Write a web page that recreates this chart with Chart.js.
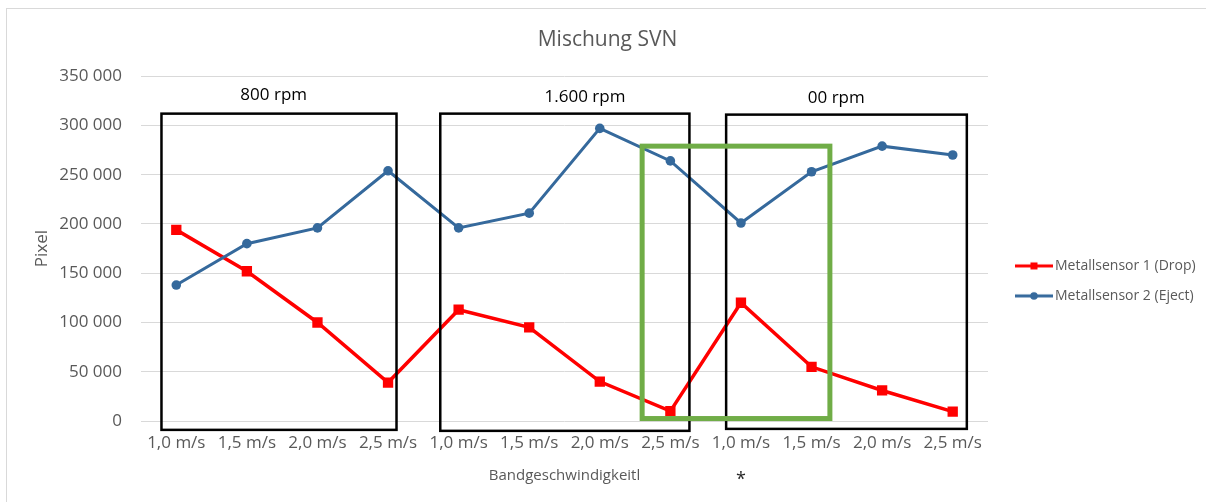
<!DOCTYPE html>
<html>
<head>
<meta charset="utf-8">
<title>Mischung SVN</title>
<script src="https://cdn.jsdelivr.net/npm/chart.js@4/dist/chart.umd.min.js"></script>
<style>
  html, body { margin: 0; padding: 0; background: #ffffff; }
  #wrap { position: relative; width: 1206px; height: 502px; overflow: hidden; }
  #frame { position: absolute; left: 6px; top: 8px; width: 1220px; height: 520px;
           border: 1px solid #d9d9d9; box-sizing: border-box; pointer-events: none; }
  canvas { position: absolute; left: 0; top: 0; }
</style>
</head>
<body>
<div id="wrap">
  <div id="frame"></div>
  <canvas id="chart" width="1206" height="502"></canvas>
</div>
<script>
// Belt speeds, repeated for each rotor speed group
const categories = [
  '1,0 m/s', '1,5 m/s', '2,0 m/s', '2,5 m/s',
  '1,0 m/s', '1,5 m/s', '2,0 m/s', '2,5 m/s',
  '1,0 m/s', '1,5 m/s', '2,0 m/s', '2,5 m/s'
];
// Pixel counts per sensor
const dropPixels  = [194000, 152000, 100000, 39000, 113000, 95000, 40000, 10000, 120000, 55000, 31000, 9500];
const ejectPixels = [138000, 180000, 196000, 254000, 196000, 211000, 297000, 264000, 201000, 253000, 279000, 270000];
// Rotor speed group names
const groupNames = ['800 rpm', '1.600 rpm', '00 rpm'];

const FONT = "'Open Sans', 'Liberation Sans', sans-serif";
const GREY = '#595959';
const RED = '#ff0000';
const BLUE = '#35699c';

function formatThousands(v) {
  return String(v).replace(/\B(?=(\d{3})+(?!\d))/g, ' ');
}

// Legend swatch: short line with its marker in the middle (drawn on a wider transparent canvas)
function legendSwatch(color, shape) {
  const c = document.createElement('canvas');
  c.width = 80; c.height = 12;
  const g = c.getContext('2d');
  const x0 = 29, x1 = 67, mid = 48;
  g.strokeStyle = color; g.lineWidth = 3;
  g.beginPath(); g.moveTo(x0, 6); g.lineTo(x1, 6); g.stroke();
  g.fillStyle = color;
  if (shape === 'rect') {
    g.fillRect(mid - 3.5, 2.5, 7, 7);
  } else {
    g.beginPath(); g.arc(mid, 6, 3.8, 0, Math.PI * 2); g.fill();
  }
  return c;
}
const swatches = [legendSwatch(RED, 'rect'), legendSwatch(BLUE, 'circle')];

// Frames, group captions and note drawn in data coordinates
const groupFrames = {
  id: 'groupFrames',
  afterDatasetsDraw(chart, args, opts) {
    const x = chart.scales.x, y = chart.scales.y, ctx = chart.ctx;
    ctx.save();
    opts.frames.forEach(f => {
      const l = x.getPixelForValue(f.from), r = x.getPixelForValue(f.to);
      const t = y.getPixelForValue(f.top), b = y.getPixelForValue(f.bottom);
      ctx.strokeStyle = f.color;
      ctx.lineWidth = f.width;
      ctx.lineJoin = 'miter';
      ctx.strokeRect(l, t, r - l, b - t);
    });
    ctx.fillStyle = '#000000';
    ctx.font = '17px ' + FONT;
    ctx.textAlign = 'center';
    ctx.textBaseline = 'middle';
    opts.captions.forEach((c, i) => {
      ctx.fillText(groupNames[i], x.getPixelForValue(c.at), y.getPixelForValue(c.value));
    });
    ctx.fillStyle = '#262626';
    ctx.font = '18px ' + FONT;
    ctx.fillText('*', x.getPixelForValue(opts.note.at), y.getPixelForValue(opts.note.value));
    ctx.restore();
  }
};

new Chart(document.getElementById('chart'), {
  type: 'line',
  data: {
    labels: categories,
    datasets: [
      {
        label: 'Metallsensor 1 (Drop)',
        data: dropPixels,
        borderColor: RED,
        backgroundColor: RED,
        borderWidth: 3.5,
        pointStyle: 'rect',
        pointRadius: 7.3,
        pointBorderWidth: 0,
        pointBackgroundColor: RED,
        tension: 0,
        order: 1
      },
      {
        label: 'Metallsensor 2 (Eject)',
        data: ejectPixels,
        borderColor: BLUE,
        backgroundColor: BLUE,
        borderWidth: 3,
        pointStyle: 'circle',
        pointRadius: 4.8,
        pointBorderWidth: 0,
        pointBackgroundColor: BLUE,
        tension: 0,
        order: 0
      }
    ]
  },
  options: {
    responsive: false,
    devicePixelRatio: 1,
    animation: false,
    layout: { padding: { left: 12, right: 3, top: 0, bottom: 17 } },
    scales: {
      x: {
        offset: true,
        grid: { display: false, drawTicks: false },
        border: { display: false },
        ticks: { color: GREY, font: { family: FONT, size: 17 }, padding: 12, maxRotation: 0, autoSkip: false },
        title: { display: true, text: 'Bandgeschwindigkeitl', color: GREY,
                 font: { family: FONT, size: 15 }, padding: { top: 12, bottom: 0 } },
        afterFit(scale) { scale.height = 64; }
      },
      y: {
        min: 0, max: 350000,
        grid: { color: '#d9d9d9', lineWidth: 1, drawTicks: false },
        border: { display: false },
        ticks: { stepSize: 50000, color: GREY, font: { family: FONT, size: 17 }, padding: 19,
                 callback: v => formatThousands(v) },
        title: { display: true, text: 'Pixel', color: GREY,
                 font: { family: FONT, size: 17 }, padding: { top: 20, bottom: 7 } },
        afterFit(scale) { scale.width = 129; }
      }
    },
    plugins: {
      title: {
        display: true, text: 'Mischung SVN', color: GREY,
        font: { family: FONT, size: 21, weight: 'normal' },
        padding: { top: 27, bottom: 24 }
      },
      legend: {
        position: 'right',
        align: 'center',
        maxWidth: 215,
        title: { display: true, text: ' ', font: { family: FONT, size: 14 }, padding: { top: 0, bottom: 60 } },
        labels: {
          color: GREY,
          font: { family: FONT, size: 14 },
          usePointStyle: true,
          pointStyleWidth: 44,
          boxHeight: 12,
          padding: 16,
          sort: (a, b) => a.datasetIndex - b.datasetIndex,
          generateLabels(chart) {
            const items = Chart.defaults.plugins.legend.labels.generateLabels(chart);
            items.forEach(it => { it.pointStyle = swatches[it.datasetIndex]; });
            return items;
          }
        }
      },
      tooltip: { enabled: false },
      groupFrames: {
        frames: [
          { from: -0.21, to: 3.12, top: 312000, bottom: -9000, color: '#000000', width: 2.5 },
          { from: 3.74, to: 7.27, top: 312000, bottom: -10000, color: '#000000', width: 2.5 },
          { from: 7.79, to: 11.2, top: 311000, bottom: -8000, color: '#000000', width: 2.5 },
          { from: 6.6, to: 9.26, top: 279000, bottom: 2500, color: '#70ad47', width: 5 }
        ],
        captions: [
          { at: 1.38, value: 330500 },
          { at: 5.79, value: 329000 },
          { at: 9.35, value: 328000 }
        ],
        note: { at: 8, value: -60000 }
      }
    }
  },
  plugins: [groupFrames]
});
</script>
</body>
</html>
